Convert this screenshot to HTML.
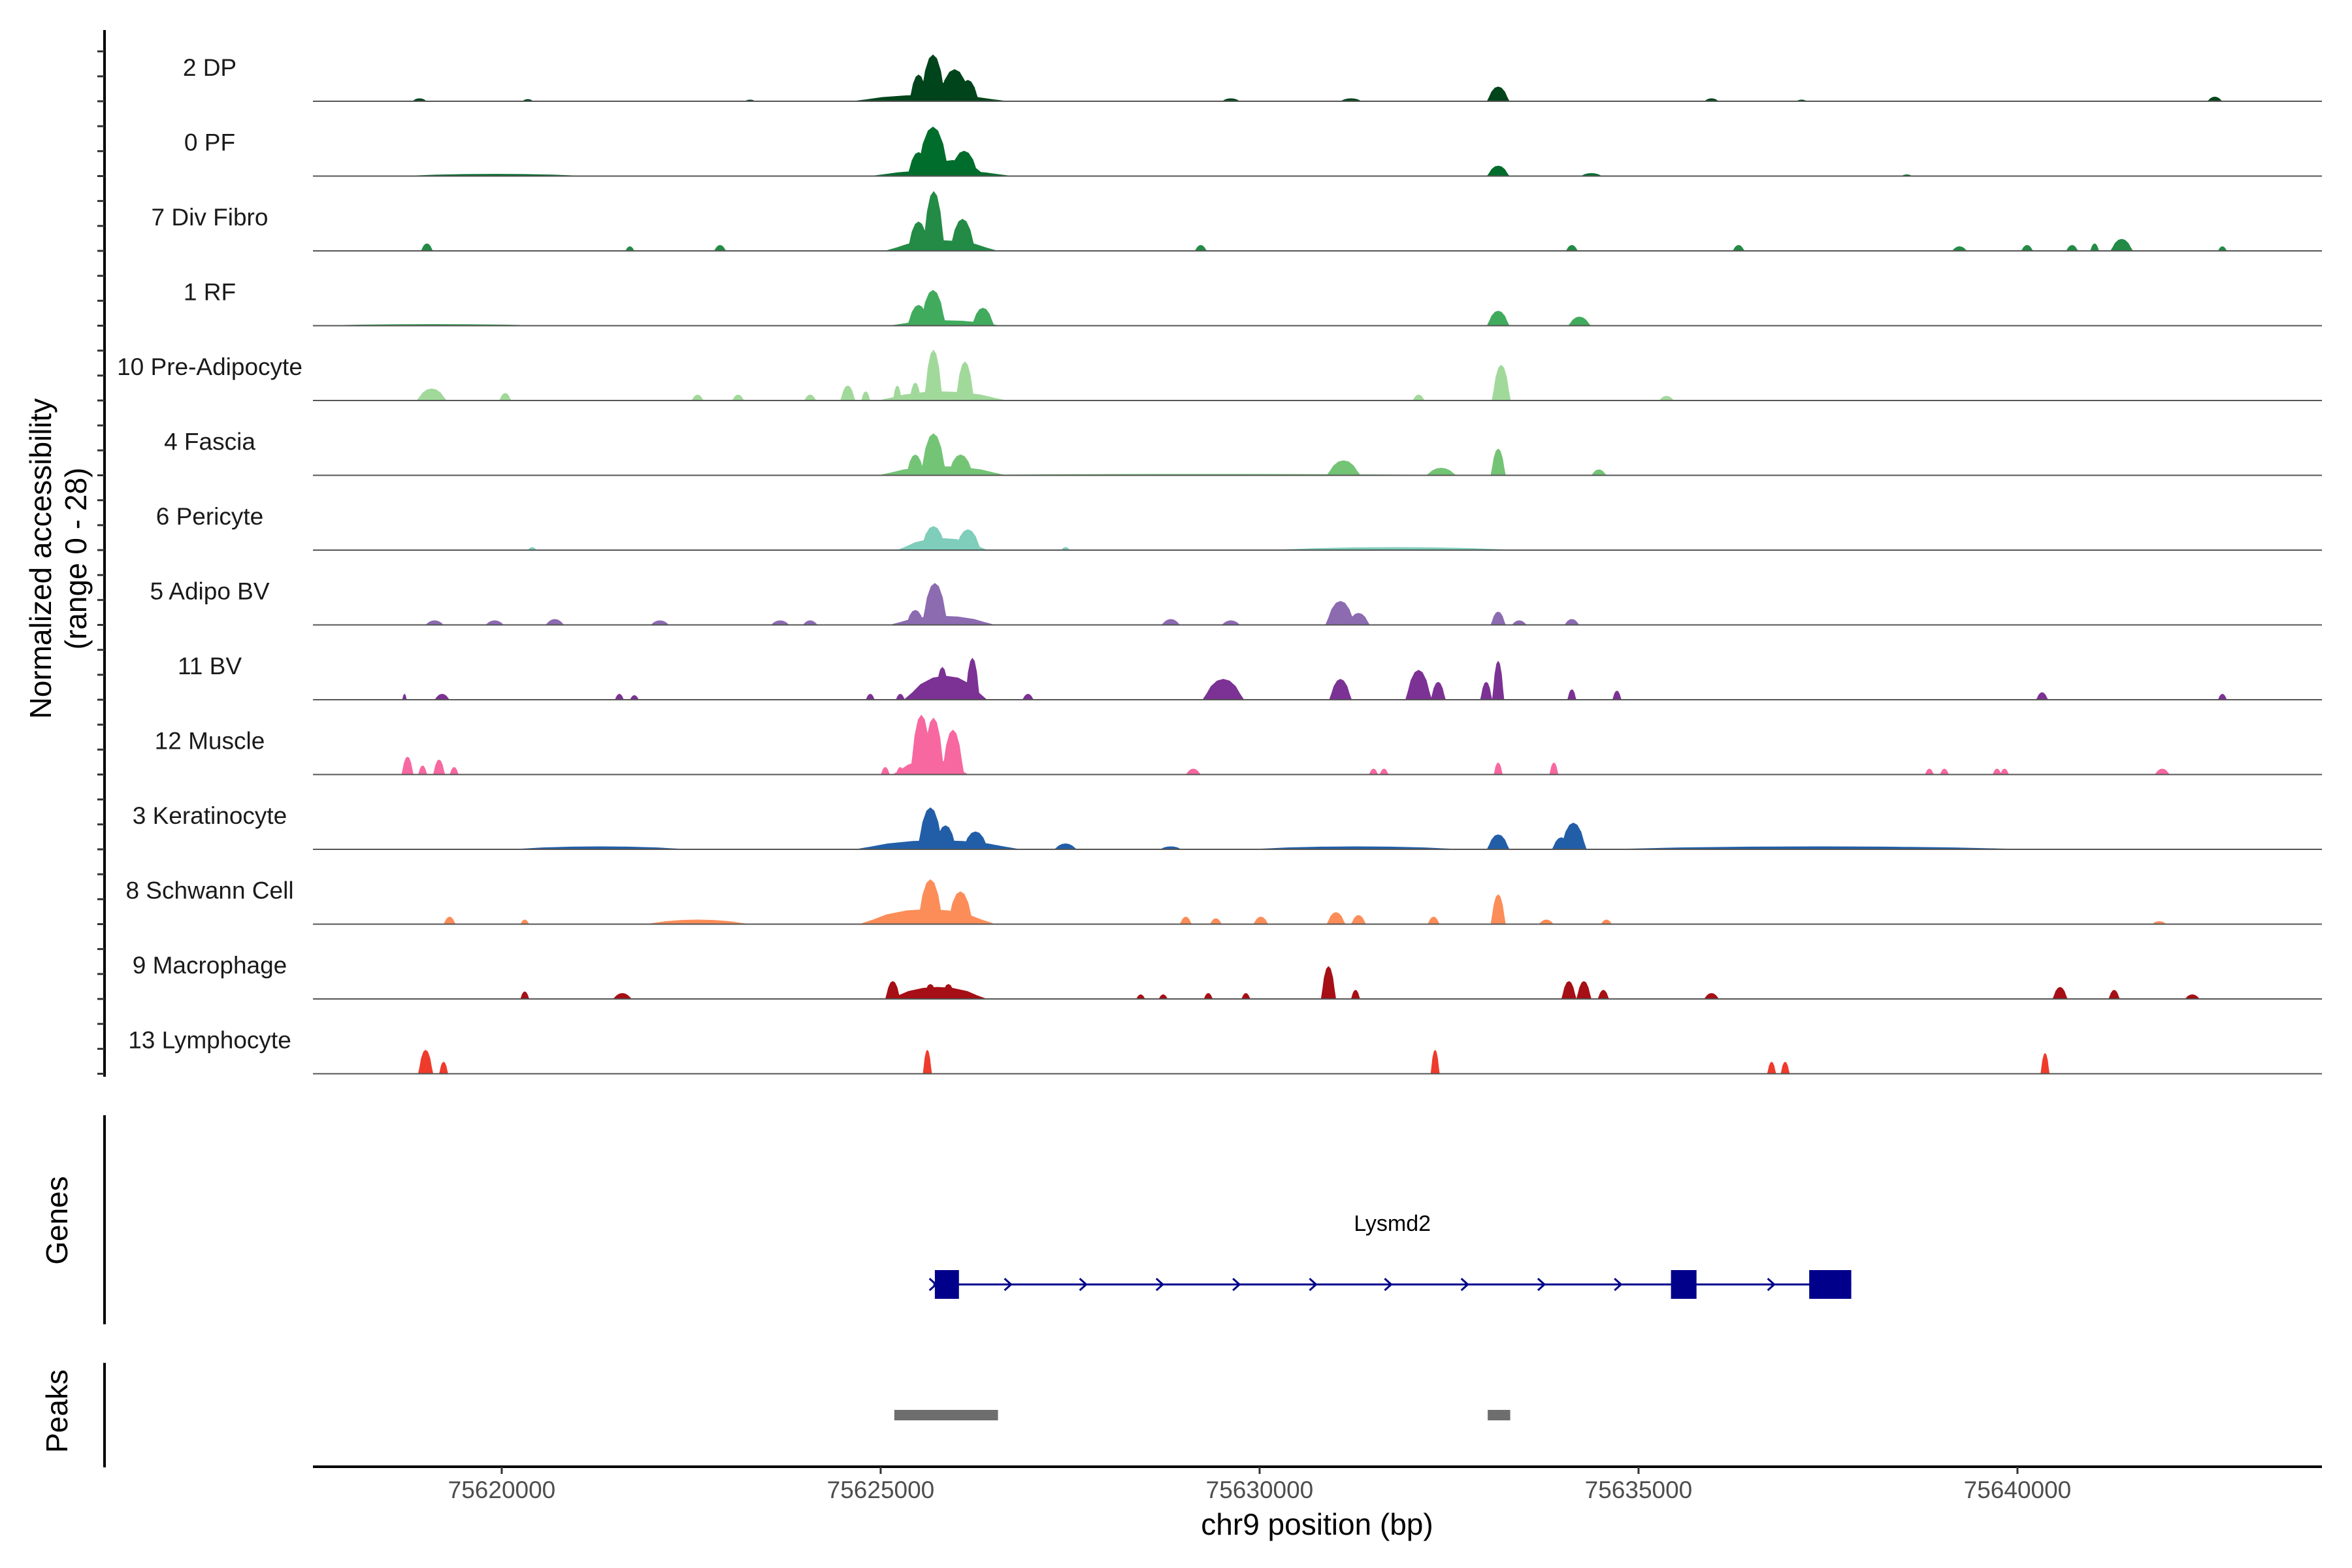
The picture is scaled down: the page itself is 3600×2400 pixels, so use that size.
<!DOCTYPE html>
<html><head><meta charset="utf-8"><style>
html,body{margin:0;padding:0;background:#fff;}
svg{display:block;font-family:"Liberation Sans",Arial,sans-serif;}
</style></head><body>
<svg id="chart" width="3600" height="2400" viewBox="0 0 3600 2400" xmlns="http://www.w3.org/2000/svg">
<rect width="3600" height="2400" fill="#fff"/>
<g id="tracks"></g>
<g id="left-axes"></g>
<g id="genes"></g>
<g id="peaks"></g>
<g id="xaxis"></g>
<text transform="translate(78,855) rotate(-90)" text-anchor="middle" font-size="46" fill="#000">Normalized accessibility</text>
<text transform="translate(132,855) rotate(-90)" text-anchor="middle" font-size="46" fill="#000">(range 0 - 28)</text>
<text transform="translate(103,1868) rotate(-90)" text-anchor="middle" font-size="46" fill="#000">Genes</text>
<text transform="translate(103,2160) rotate(-90)" text-anchor="middle" font-size="46" fill="#000">Peaks</text>
<text x="2016" y="2349" text-anchor="middle" font-size="46" fill="#000">chr9 position (bp)</text>
</svg>
<script>
// ---- data ----
const trackNames = ["2 DP","0 PF","7 Div Fibro","1 RF","10 Pre-Adipocyte","4 Fascia","6 Pericyte","5 Adipo BV","11 BV","12 Muscle","3 Keratinocyte","8 Schwann Cell","9 Macrophage","13 Lymphocyte"];
const trackColors = ["#00441b","#006d2c","#238b45","#41ab5d","#a1d99b","#74c476","#7fcdbb","#8c6bb1","#7b3294","#f768a1","#225ea8","#fc8d59","#a50f15","#ef3b2c"];
// peaks: [position bp, width bp, height (0-28 scale)]
const peaks_2DP = [[75625650,2100,2.4],[75625800,900,7],[75625690,350,17.5],[75625500,250,10],[75625975,450,12],[75626150,300,8],[75633148,300,5.5],[75618915,200,1.1],[75620344,150,0.8],[75623277,150,0.6],[75629621,250,1.1],[75631206,300,1.1],[75635963,200,1.1],[75637153,150,0.6],[75642604,200,1.7]];
const peaks_0PF = [[75625800,1900,2.2],[75625950,900,6],[75625690,450,18.5],[75625500,300,9],[75626100,400,9.5],[75633148,300,3.9],[75619907,2600,0.8],[75634378,300,1.1],[75638540,150,0.6]];
const peaks_7DivFibro = [[75625700,300,22.4],[75625500,300,11],[75626080,350,12],[75625800,1500,4],[75619013,160,2.8],[75621691,120,1.7],[75622881,160,2.2],[75629224,160,2.2],[75634120,160,2.2],[75636320,160,2.2],[75639235,200,1.7],[75640127,160,2.2],[75640721,160,2.2],[75641018,120,2.8],[75641375,300,4.5],[75642704,120,1.7]];
const peaks_1RF = [[75625690,350,13.4],[75625500,300,7.8],[75626349,300,6.7],[75625850,1500,2],[75633148,300,5.6],[75634220,300,3.4],[75619090,3200,0.6]];
const peaks_10PreAdipocyte = [[75625696,250,19],[75626112,250,14.6],[75625457,160,6.7],[75625220,120,5.6],[75625814,1700,3.4],[75619075,400,4.5],[75620046,160,2.8],[75622584,160,2.2],[75623119,160,2.2],[75624070,160,2.2],[75624566,200,5.6],[75624803,120,3.4],[75632098,160,2.2],[75633188,250,13.4],[75635369,200,1.7]];
const peaks_4Fascia = [[75625696,350,15.7],[75626055,350,7.8],[75625457,250,7.8],[75625814,1700,3.4],[75631108,450,5.6],[75632396,400,2.8],[75633148,200,10],[75634477,200,2.2],[75629240,8000,0.5]];
const peaks_6Pericyte = [[75625696,350,9],[75626151,350,7.8],[75625814,1200,4.5],[75620402,120,1.1],[75627439,120,1.1],[75631778,3500,1.1]];
const peaks_5AdipoBV = [[75625715,350,15.7],[75625457,250,5.6],[75625814,1400,3.4],[75631067,400,9],[75631305,300,4.5],[75633148,200,5],[75619114,250,1.7],[75619907,250,1.7],[75620700,250,2.2],[75622087,250,1.7],[75623674,250,1.7],[75624070,200,1.7],[75628828,250,2.2],[75629621,250,1.7],[75633426,200,1.7],[75634120,200,2.2]];
const peaks_11BV = [[75625855,1100,9],[75626211,200,15.7],[75625814,200,12.3],[75633148,160,14.6],[75632990,160,6.7],[75632098,350,11.2],[75632356,200,6.7],[75629521,550,7.8],[75631067,300,7.8],[75634120,120,3.9],[75634715,120,3.4],[75624863,120,2.2],[75625259,120,2.2],[75618717,60,2.2],[75619213,200,2.2],[75621552,120,2.2],[75621750,120,1.7],[75626944,150,2.2],[75640325,160,2.8],[75642704,120,2.2]];
const peaks_12Muscle = [[75625537,300,22.4],[75625696,300,21.3],[75625953,300,16.8],[75625656,1000,5.6],[75618757,160,6.7],[75618956,120,3.4],[75619173,160,5.6],[75619372,120,2.8],[75625061,120,2.8],[75625259,120,2.8],[75629125,200,2.2],[75631503,120,2.2],[75631642,120,2.2],[75633148,120,4.5],[75633883,120,4.5],[75638838,120,2.2],[75639036,120,2.2],[75639730,120,2.2],[75639829,120,2.2],[75641910,200,2.2]];
const peaks_3Keratinocyte = [[75625656,350,15.7],[75625855,300,9],[75626251,350,6.7],[75625754,2200,3.4],[75633148,300,5.6],[75634140,350,10],[75633981,250,4.5],[75621295,2500,1.1],[75627439,300,2.2],[75628828,300,1.1],[75637360,6000,1.1],[75631270,3000,1.1]];
const peaks_8SchwannCell = [[75625656,350,16.8],[75626052,350,12.3],[75625616,1800,5.6],[75633148,200,11.2],[75619312,160,2.8],[75620304,120,1.7],[75622584,1400,1.7],[75629026,160,2.8],[75629423,160,2.2],[75630016,200,2.8],[75631008,250,4.5],[75631305,200,3.4],[75632296,160,2.8],[75633783,200,1.7],[75634576,150,1.7],[75641871,200,1.1]];
const peaks_9Macrophage = [[75625754,1300,4.5],[75625160,200,6.7],[75625656,200,5.6],[75625894,200,5.6],[75630909,200,12.3],[75631266,120,3.4],[75620304,120,2.8],[75621592,250,2.2],[75628431,120,1.7],[75628728,120,1.7],[75629323,120,2.2],[75629819,120,2.2],[75634081,200,6.7],[75634279,200,6.7],[75634536,150,3.4],[75635963,200,2.2],[75640562,200,4.5],[75641276,150,3.4],[75642307,200,1.7]];
const peaks_13Lymphocyte = [[75618996,200,9],[75619233,120,4.5],[75625616,120,9],[75632316,120,9],[75636756,120,4.5],[75636935,120,4.5],[75640364,120,7.8]];
const trackPeaks = [peaks_2DP,peaks_0PF,peaks_7DivFibro,peaks_1RF,peaks_10PreAdipocyte,peaks_4Fascia,peaks_6Pericyte,peaks_5AdipoBV,peaks_11BV,peaks_12Muscle,peaks_3Keratinocyte,peaks_8SchwannCell,peaks_9Macrophage,peaks_13Lymphocyte];
const xTicks = [75620000,75625000,75630000,75635000,75640000];
const xTickLabels = ["75620000","75625000","75630000","75635000","75640000"];
const geneName = "Lysmd2";
const geneSpan = [75625696,75637807];
const geneExons = [[75625715,75626033],[75635428,75635765],[75637252,75637807]];
const geneArrows = [75625696,75626686,75627678,75628689,75629700,75630711,75631702,75632713,75633724,75634735,75636756];
const regionPeaks = [[75625180,75626548],[75633010,75633307]];

// ---- scales ----
const PX0=479, PX1=3554, BP0=75617509, PXBP=0.116;
function xs(bp){return PX0+(bp-BP0)*PXBP;}
const BASE0=155, TSTEP=114.5, UNIT=114.5/28;
function ys(i,v){return BASE0+i*TSTEP - v*UNIT;}
const NS="http://www.w3.org/2000/svg";
function mk(tag,parent,attrs){const e=document.createElementNS(NS,tag);for(const k in attrs)e.setAttribute(k,attrs[k]);parent.appendChild(e);return e;}
const SHAPE=[[-0.5,0],[-0.4,0.3],[-0.3,0.65],[-0.15,0.92],[0,1],[0.15,0.92],[0.3,0.65],[0.4,0.3],[0.5,0]];

// ---- tracks ----
const tg=document.getElementById('tracks');
trackNames.forEach((name,i)=>{
  const g=mk('g',tg,{});
  
  
  trackPeaks[i].forEach(p=>{
    const c=p[0],w=p[1],h=p[2];
    const pts=SHAPE.map(q=>xs(c+q[0]*w).toFixed(1)+','+ys(i,q[1]*h).toFixed(1)).join(' ');
    const pg=mk('polygon',g,{points:pts,fill:trackColors[i]});
    
    
  });
  const bl=mk('line',g,{x1:PX0,x2:PX1,y1:ys(i,0),y2:ys(i,0),stroke:'#555','stroke-width':2});
  
  
  const t=mk('text',g,{x:321,y:ys(i,0)-39,'text-anchor':'middle','font-size':37,fill:'#1a1a1a'});
  t.textContent=name;
  
  
});

// ---- left axes ----
const la=document.getElementById('left-axes');
mk('line',la,{x1:160,x2:160,y1:46,y2:1648,stroke:'#000','stroke-width':4});
for(let i=0;i<trackNames.length;i++){for(let k=0;k<3;k++){const y=BASE0+i*TSTEP-k*TSTEP/3;mk('line',la,{x1:149,x2:160,y1:y,y2:y,stroke:'#333','stroke-width':3});}}
mk('line',la,{x1:160,x2:160,y1:1707,y2:2027,stroke:'#000','stroke-width':4});
mk('line',la,{x1:160,x2:160,y1:2086,y2:2246,stroke:'#000','stroke-width':4});

// ---- genes ----
const gg=document.getElementById('genes');
const GY=1966;
const gl=mk('line',gg,{x1:xs(geneSpan[0]),x2:xs(geneSpan[1]),y1:GY,y2:GY,stroke:'#00008b','stroke-width':3});


geneArrows.forEach(a=>{const x=xs(a);const ar=mk('polyline',gg,{points:`${x-6},${GY-9} ${x+4},${GY} ${x-6},${GY+9}`,fill:'none',stroke:'#00008b','stroke-width':3});
  
  });
geneExons.forEach(e=>{const r=mk('rect',gg,{x:xs(e[0]),y:GY-22,width:xs(e[1])-xs(e[0]),height:44,fill:'#00008b'});
  
  });
const gt=mk('text',gg,{x:xs((geneSpan[0]+geneSpan[1])/2),y:1884,'text-anchor':'middle','font-size':34,fill:'#000'});
gt.textContent=geneName;



// ---- peaks ----
const pk=document.getElementById('peaks');
regionPeaks.forEach(p=>{const r=mk('rect',pk,{x:xs(p[0]),y:2158,width:xs(p[1])-xs(p[0]),height:16,fill:'#6e6e6e'});
  
  });

// ---- x axis ----
const xa=document.getElementById('xaxis');
mk('line',xa,{x1:PX0,x2:PX1,y1:2245,y2:2245,stroke:'#000','stroke-width':4});
xTicks.forEach((t,i)=>{const x=xs(t);
  mk('line',xa,{x1:x,x2:x,y1:2245,y2:2256,stroke:'#333','stroke-width':3});
  const tx=mk('text',xa,{x:x,y:2293,'text-anchor':'middle','font-size':37,fill:'#4d4d4d'});
  tx.textContent=xTickLabels[i];
  
  
});
</script>
</body></html>
